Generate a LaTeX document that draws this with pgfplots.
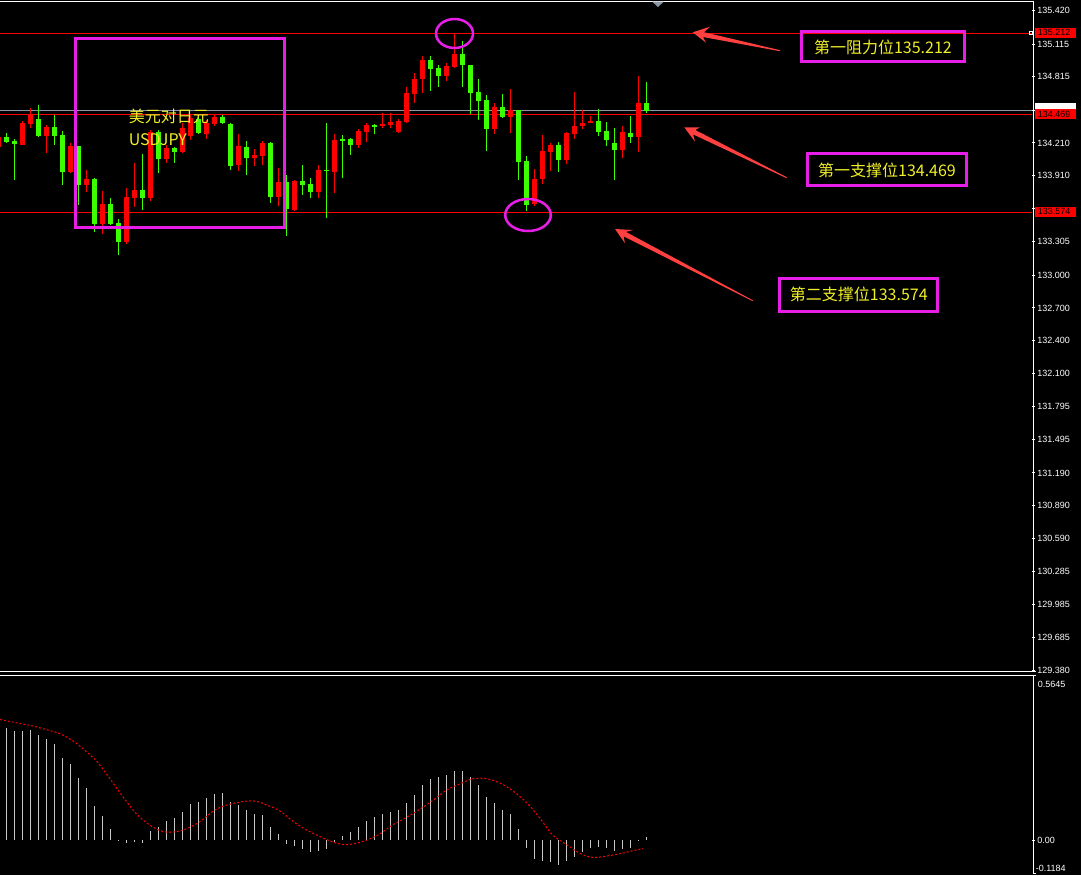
\documentclass[border=0pt]{standalone}
\usepackage{pgfplots}
\pgfplotsset{compat=1.18}
\usepackage{pgfplotstable}
\usepackage{fontspec}
\setmainfont{Liberation Sans}
\newfontfamily\cjk{Noto Sans CJK SC}

\definecolor{bull}{RGB}{255,0,0}
\definecolor{bear}{RGB}{60,255,0}
\definecolor{mag}{RGB}{230,30,230}
\definecolor{txty}{RGB}{240,240,40}
\definecolor{arr}{RGB}{255,64,64}
\definecolor{bidgray}{RGB}{136,150,165}
\definecolor{histc}{RGB}{200,200,200}

\pgfplotstableread{
k o h l c
-1 134.175 134.292 134.154 134.267
0 134.261 134.304 134.212 134.221
1 134.228 134.252 133.871 134.203
2 134.191 134.408 134.190 134.392
3 134.386 134.530 134.349 134.472
4 134.426 134.557 134.264 134.276
5 134.276 134.377 134.118 134.356
6 134.353 134.466 134.191 134.276
7 134.283 134.319 133.825 133.947
8 133.947 134.207 133.932 134.185
9 134.182 134.182 133.642 133.825
10 133.825 133.962 133.764 133.883
11 133.880 133.889 133.398 133.468
12 133.468 133.770 133.376 133.651
13 133.651 133.709 133.459 133.468
14 133.474 133.514 133.184 133.306
15 133.306 133.800 133.285 133.715
16 133.706 134.026 133.626 133.782
17 133.782 134.109 133.596 133.709
18 133.709 134.328 133.681 134.307
19 134.307 134.328 133.935 134.063
20 134.063 134.188 134.026 134.164
21 134.164 134.170 134.026 134.130
22 134.130 134.392 134.115 134.344
23 134.276 134.466 134.237 134.441
24 134.429 134.466 134.294 134.304
25 134.294 134.420 134.249 134.392
26 134.383 134.475 134.368 134.447
27 134.447 134.466 134.386 134.395
28 134.383 134.392 133.965 134.002
29 134.008 134.292 133.956 134.182
30 134.173 134.228 133.919 134.075
31 134.075 134.154 134.002 134.099
32 134.093 134.228 134.011 134.209
33 134.209 134.218 133.663 133.718
34 133.718 133.981 133.635 133.852
35 133.852 133.916 133.361 133.608
36 133.599 133.871 133.587 133.862
37 133.862 134.008 133.736 133.828
38 133.834 133.889 133.709 133.764
39 133.764 134.008 133.709 133.962
40 133.962 134.392 133.526 133.956
41 133.947 134.292 133.754 134.237
42 134.243 134.283 133.892 134.237
43 134.246 134.255 134.102 134.194
44 134.194 134.337 134.166 134.319
45 134.313 134.392 134.221 134.374
46 134.374 134.383 134.294 134.358
47 134.368 134.484 134.349 134.386
48 134.377 134.484 134.349 134.401
49 134.310 134.429 134.301 134.411
50 134.404 134.722 134.395 134.667
51 134.660 134.850 134.578 134.795
52 134.795 135.006 134.667 134.969
53 134.969 135.006 134.685 134.889
54 134.896 134.923 134.722 134.825
55 134.825 134.941 134.777 134.914
56 134.905 135.207 134.896 135.024
57 135.024 135.143 134.722 134.926
58 134.923 134.923 134.475 134.670
59 134.676 134.795 134.423 134.596
60 134.603 134.649 134.139 134.340
61 134.340 134.575 134.294 134.539
62 134.539 134.658 134.441 134.450
63 134.450 134.703 134.304 134.511
64 134.511 134.511 133.873 134.038
65 134.045 134.090 133.590 133.645
66 133.654 133.971 133.635 133.880
67 133.880 134.283 133.837 134.136
68 134.130 134.209 133.956 134.191
69 134.191 134.218 133.947 134.056
70 134.056 134.310 134.020 134.301
71 134.294 134.676 134.249 134.365
72 134.368 134.511 134.340 134.392
73 134.395 134.456 134.395 134.411
74 134.411 134.520 134.276 134.313
75 134.319 134.401 134.185 134.239
76 134.209 134.347 133.873 134.148
77 134.148 134.365 134.075 134.310
78 134.301 134.456 134.212 134.267
79 134.267 134.822 134.130 134.575
80 134.575 134.768 134.487 134.505
}\candles

\pgfplotstableread{
k m
0 0.385
1 0.374
2 0.374
3 0.378
4 0.360
5 0.347
6 0.329
7 0.284
8 0.263
9 0.215
10 0.180
11 0.118
12 0.083
13 0.038
14 -0.004
15 -0.012
16 -0.008
17 -0.012
18 0.031
19 0.045
20 0.066
21 0.076
22 0.097
23 0.125
24 0.132
25 0.146
26 0.160
27 0.163
28 0.132
29 0.121
30 0.104
31 0.090
32 0.087
33 0.045
34 0.021
35 -0.013
36 -0.020
37 -0.030
38 -0.040
39 -0.037
40 -0.030
41 -0.007
42 0.014
43 0.028
44 0.045
45 0.066
46 0.080
47 0.090
48 0.097
49 0.104
50 0.128
51 0.156
52 0.191
53 0.211
54 0.218
55 0.225
56 0.239
57 0.239
58 0.218
59 0.191
60 0.149
61 0.128
62 0.104
63 0.090
64 0.038
65 -0.027
66 -0.065
67 -0.072
68 -0.075
69 -0.086
70 -0.072
71 -0.058
72 -0.040
73 -0.027
74 -0.023
75 -0.027
76 -0.037
77 -0.030
78 -0.027
79 -0.004
80 0.010
}\hist

\pgfplotstableread{
k s
-0.8 0.415
1.7 0.401
3.4 0.392
5.0 0.380
6.7 0.366
8.4 0.340
9.6 0.314
11.3 0.271
12.9 0.213
14.6 0.148
16.3 0.089
18.0 0.050
19.6 0.029
21.3 0.029
22.6 0.040
24.2 0.063
25.9 0.100
27.5 0.120
30.0 0.134
31.3 0.133
32.5 0.121
34.2 0.100
35.9 0.063
37.5 0.035
39.2 0.012
40.9 -0.008
42.3 -0.016
43.6 -0.012
45.1 0.000
46.7 0.021
48.3 0.052
50.1 0.079
51.7 0.106
53.3 0.136
55.1 0.173
56.7 0.193
58.3 0.211
60.1 0.211
61.7 0.196
63.3 0.170
65.1 0.127
66.7 0.075
68.3 0.017
70.1 -0.017
71.7 -0.046
73.3 -0.060
75.1 -0.055
76.7 -0.047
78.3 -0.037
79.6 -0.029
}\signal

\begin{document}
\begin{tikzpicture}
\path[use as bounding box] (0,0) rectangle (810.75pt,-656.25pt);
\fill[black] (0,0) rectangle (810.75pt,-656.25pt);

% ---------------- main price panel ----------------
\begin{axis}[
  at={(0pt,0pt)}, anchor=north west,
  scale only axis, width=774pt, height=504pt,
  xmin=-0.7875, xmax=128.2125, ymin=129.368, ymax=135.518,
  axis line style={draw=none},
  xtick=\empty,
  ytick={135.420,135.115,134.815,134.510,134.210,133.910,133.610,133.305,133.000,132.700,132.400,132.100,131.795,131.495,131.190,130.890,130.590,130.285,129.985,129.685,129.380},
  yticklabels={135.420,135.115,134.815,,134.210,133.910,,133.305,133.000,132.700,132.400,132.100,131.795,131.495,131.190,130.890,130.590,130.285,129.985,129.685,129.380},
  ytick pos=right, yticklabel pos=right,
  tick align=outside, major tick length=2.25pt,
  tick style={white, line width=0.75pt},
  yticklabel style={font=\fontsize{6.75pt}{7pt}\selectfont, text=white, inner sep=0pt, anchor=west, xshift=1.5pt},
]
% level lines
\addplot[bull, line width=0.75pt] coordinates {(-2,135.212) (130,135.212)};
\addplot[bidgray, line width=0.75pt] coordinates {(-2,134.505) (130,134.505)};
\addplot[bull, line width=0.75pt] coordinates {(-2,134.469) (130,134.469)};
\addplot[bull, line width=0.75pt] coordinates {(-2,133.574) (130,133.574)};
% wicks
\addplot[draw=none, mark=none, restrict expr to domain={\thisrow{c}-\thisrow{o}}{0:10},
  error bars/.cd, y dir=both, y explicit, error mark=none,
  error bar style={draw=bull, line width=0.75pt}]
  table[x=k, y expr={(\thisrow{h}+\thisrow{l})/2}, y error expr={(\thisrow{h}-\thisrow{l})/2}] {\candles};
\addplot[draw=none, mark=none, restrict expr to domain={\thisrow{c}-\thisrow{o}}{-10:0},
  error bars/.cd, y dir=both, y explicit, error mark=none,
  error bar style={draw=bear, line width=0.75pt}]
  table[x=k, y expr={(\thisrow{h}+\thisrow{l})/2}, y error expr={(\thisrow{h}-\thisrow{l})/2}] {\candles};
% bodies
\addplot[draw=none, mark=none, restrict expr to domain={\thisrow{c}-\thisrow{o}}{0:10},
  error bars/.cd, y dir=both, y explicit, error mark=none,
  error bar style={draw=bull, line width=3.75pt}]
  table[x=k, y expr={(\thisrow{o}+\thisrow{c})/2}, y error expr={max(abs(\thisrow{c}-\thisrow{o})/2,0.0046)}] {\candles};
\addplot[draw=none, mark=none, restrict expr to domain={\thisrow{c}-\thisrow{o}}{-10:0},
  error bars/.cd, y dir=both, y explicit, error mark=none,
  error bar style={draw=bear, line width=3.75pt}]
  table[x=k, y expr={(\thisrow{o}+\thisrow{c})/2}, y error expr={max(abs(\thisrow{c}-\thisrow{o})/2,0.0046)}] {\candles};
\end{axis}

% ---------------- MACD panel ----------------
\begin{axis}[
  at={(0pt,-507pt)}, anchor=north west,
  scale only axis, width=774pt, height=149.25pt,
  xmin=-0.7875, xmax=128.2125, ymin=-0.1205, ymax=0.5645,
  axis line style={draw=none},
  xtick=\empty,
  ytick={0}, yticklabels={0.00},
  ytick pos=right, yticklabel pos=right,
  tick align=outside, major tick length=2.25pt,
  tick style={white, line width=0.75pt},
  yticklabel style={font=\fontsize{6.75pt}{7pt}\selectfont, text=white, inner sep=0pt, anchor=west, xshift=1.5pt},
]
\addplot[ycomb, draw=histc, line width=0.75pt, mark=none] table[x=k, y=m] {\hist};
\addplot[bull, line width=0.75pt, dash pattern=on 1.5pt off 1.5pt, mark=none, smooth] table[x=k, y=s] {\signal};
\end{axis}

% ---------------- pixel-space annotations ----------------
\begin{scope}[x=0.75pt, y=-0.75pt]
  % frames
  \draw[white, line width=0.75pt] (0,1) -- (1033,1) -- (1033,671.7);
  \draw[white, line width=0.75pt] (0,671.7) -- (1036,671.7);
  \draw[white, line width=0.75pt] (0,675.7) -- (1036,675.7);
  \draw[white, line width=0.75pt] (1033,675.7) -- (1033,873) -- (1036,873);
  % shift marker
  \fill[bidgray] (652,1.5) -- (664,1.5) -- (658,7) -- cycle;
  % small marker at end of resistance line
  \draw[white, line width=0.6pt] (1029.5,31) rectangle (1032.5,34.5);
  % price tags on axis
  \fill[bull] (1035,27.5) rectangle (1076,38);
  \node[anchor=west, inner sep=0pt, font=\fontsize{6.75pt}{7pt}\selectfont, text=black] at (1037.5,32.8) {135.212};
  \fill[white] (1035,103) rectangle (1076,108.7);
  \fill[bull] (1035,108.7) rectangle (1076,119.2);
  \node[anchor=west, inner sep=0pt, font=\fontsize{6.75pt}{7pt}\selectfont, text=black] at (1037.5,114) {134.469};
  \fill[bull] (1035,206.5) rectangle (1076,217);
  \node[anchor=west, inner sep=0pt, font=\fontsize{6.75pt}{7pt}\selectfont, text=black] at (1037.5,211.8) {133.574};
  % MACD extreme labels
  \node[anchor=west, inner sep=0pt, font=\fontsize{6.75pt}{7pt}\selectfont, text=white] at (1037.5,684) {0.5645};
  \node[anchor=west, inner sep=0pt, font=\fontsize{6.75pt}{7pt}\selectfont, text=white] at (1035.5,868) {-0.1184};
  % magenta box and ellipses
  \draw[mag, line width=2.25pt] (75.5,38.5) rectangle (284.5,227.3);
  \draw[mag, line width=1.9pt] (454.5,33.5) ellipse [x radius=18.5, y radius=14.5];
  \draw[mag, line width=1.9pt] (528,215) ellipse [x radius=22.8, y radius=16];
  % chart title text
  \node[anchor=west, inner sep=0pt, text=txty, font=\cjk\fontsize{12pt}{12pt}\selectfont] at (128.5,116) {美元对日元};
  \node[anchor=west, inner sep=0pt, text=txty, font=\cjk\fontsize{12pt}{12pt}\selectfont] at (128.5,139.5) {USDJPY};
  % annotation boxes
  \draw[mag, line width=2.25pt] (801.5,31.5) rectangle (964.2,61.8);
  \node[text=txty, inner sep=0pt, font=\cjk\fontsize{12pt}{12pt}\selectfont] at (882.9,47.5) {第一阻力位135.212};
  \draw[mag, line width=2.25pt] (807.2,153.8) rectangle (966.8,185.8);
  \node[text=txty, inner sep=0pt, font=\cjk\fontsize{12pt}{12pt}\selectfont] at (887,170.3) {第一支撑位134.469};
  \draw[mag, line width=2.25pt] (779.8,278.2) rectangle (937.8,311.8);
  \node[text=txty, inner sep=0pt, font=\cjk\fontsize{12pt}{12pt}\selectfont] at (858.8,294.5) {第二支撑位133.574};
  % arrows
  \fill[arr] (780.1,50.2) -- (704.0,32.2) -- (710,26.7) -- (692.7,32.3) -- (706,42.7) -- (703.0,37.0) -- (779.9,51.2) -- cycle;
  \fill[arr] (786.9,177.25) -- (695.3,130.0) -- (700,127.3) -- (684.3,127.3) -- (695,141.7) -- (693.1,134.4) -- (786.5,178.15) -- cycle;
  \fill[arr] (752.9,300.3) -- (625.9,231.9) -- (633.3,230) -- (615,229) -- (625,243.3) -- (623.6,236.3) -- (752.5,301.1) -- cycle;
\end{scope}
\end{tikzpicture}
\end{document}
